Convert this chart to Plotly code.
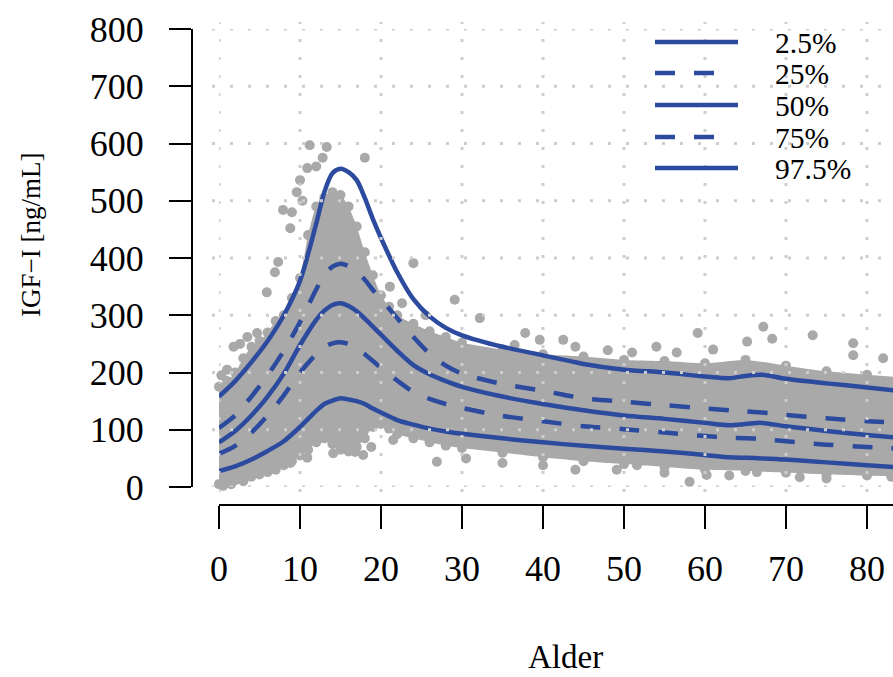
import plotly.graph_objects as go

# ---------------- data ----------------
ages = [0, 2, 4, 6, 8, 10, 12, 13, 14, 15, 16, 17, 18, 19, 20, 22, 24, 26, 28, 30,
        35, 40, 45, 50, 55, 60, 63, 65, 67, 70, 75, 80, 84]
p2_5 = [28, 36, 48, 63, 80, 105, 133, 145, 151, 155, 153, 150, 145, 137, 130, 117, 109, 102, 97, 93,
        85, 78, 72, 67, 62, 56, 52, 51, 50, 48, 43, 38, 34]
p25 = [58, 72, 95, 125, 160, 200, 232, 244, 251, 253, 250, 242, 232, 220, 208, 186, 166, 154, 145, 138,
       124, 115, 106, 101, 95, 89, 86, 85, 84, 80, 74, 70, 67]
p50 = [78, 98, 125, 158, 198, 248, 292, 308, 318, 321, 316, 307, 294, 280, 266, 238, 213, 197, 185, 175,
       158, 145, 134, 125, 119, 112, 108, 110, 112, 106, 98, 91, 86]
p75 = [103, 125, 158, 195, 238, 288, 345, 370, 385, 390, 386, 376, 362, 344, 328, 295, 262, 233, 212, 198,
       180, 168, 155, 149, 143, 137, 134, 132, 130, 126, 120, 115, 112]
p97_5 = [158, 185, 218, 255, 300, 360, 460, 515, 548, 556, 550, 536, 505, 468, 435, 375, 328, 298, 278, 265,
         245, 230, 215, 205, 200, 193, 190, 194, 196, 189, 181, 174, 168]

# dense cloud of observations: lower / upper edge
env_age = [0, 1, 2, 3, 4, 5, 6, 7, 8, 9, 10, 11, 12, 13, 14, 15, 16, 17, 18, 19, 20, 21, 22,
           24, 26, 28, 30, 35, 40, 45, 50, 55, 60, 65, 70, 75, 80, 84]
env_low = [5, 8, 12, 15, 18, 22, 26, 30, 38, 45, 55, 65, 78, 85, 75, 65, 62, 70, 85, 105, 110, 102, 92,
           85, 78, 72, 68, 60, 52, 45, 40, 35, 30, 28, 25, 22, 20, 18]
env_high = [175, 185, 200, 225, 245, 255, 270, 290, 300, 330, 365, 440, 490, 505, 515, 510, 490, 455, 410, 370, 335, 315, 300,
            285, 272, 262, 252, 240, 232, 228, 222, 220, 216, 222, 212, 202, 196, 192]

# scattered single observations outside the dense cloud
out_age = [11.2, 13.3, 18.0, 10.0, 10.9, 12.0, 12.8, 9.6, 10.3, 9.0, 7.9, 8.8, 7.3, 6.9, 5.9, 4.7, 3.5, 2.6, 1.8, 1.0, 0.3,
           24.0, 21.1, 22.6, 25.5, 29.1, 32.2, 37.8, 39.6, 36.5, 42.5, 44.0, 48.0, 51.0, 54.0, 56.5, 59.1, 61.0, 65.2, 67.2, 68.3,
           73.3, 78.3, 78.3, 82.0,
           8.8, 10.9, 14.1, 16.8, 17.8, 18.8, 21.5, 26.9, 30.5, 35.0, 40.0, 44.0, 49.1, 51.6, 55.0, 58.1, 60.2, 63.0, 66.4, 71.7,
           75.0, 80.0, 83.0, 0.5, 1.5, 3.0]
out_igf = [597, 594, 575, 536, 557, 560, 575, 515, 500, 480, 484, 452, 393, 375, 340, 269, 262, 250, 245, 205, 195,
           391, 350, 321, 300, 327, 295, 269, 257, 248, 257, 245, 239, 235, 245, 235, 269, 240, 254, 280, 259,
           265, 251, 230, 225,
           42, 51, 59, 61, 56, 70, 82, 44, 50, 42, 38, 30, 30, 38, 25, 9, 21, 20, 26, 17,
           15, 24, 18, 2, 5, 10]

x_ticks = [0, 10, 20, 30, 40, 50, 60, 70, 80]
y_ticks = [0, 100, 200, 300, 400, 500, 600, 700, 800]
legend_labels = ["2.5%", "25%", "50%", "75%", "97.5%"]
x_title = "Alder"
y_title = "IGF\u2212I [ng/mL]"

# ---------------- styling ----------------
W, H = 893, 677
FONT = "Liberation Serif"
BLUE = "#2c4a9e"
GREY = "#a9a9a9"
GRID = "#cdcdcd"
DASH = "20px,19px"


def pxx(x):
    return x / W


def pxy(y):
    return (H - y) / H


fig = go.Figure()

# dense cloud (filled between edges)
fig.add_trace(go.Scatter(x=env_age, y=env_low, mode="lines",
                         line=dict(width=0, color=GREY, shape="spline", smoothing=0.6),
                         showlegend=False, hoverinfo="skip"))
fig.add_trace(go.Scatter(x=env_age, y=env_high, mode="lines", fill="tonexty", fillcolor=GREY,
                         line=dict(width=0, color=GREY, shape="spline", smoothing=0.6),
                         showlegend=False, hoverinfo="skip"))
fig.add_trace(go.Scatter(x=env_age + env_age, y=env_low + env_high, mode="markers",
                         marker=dict(size=10, color=GREY), cliponaxis=False,
                         showlegend=False, hoverinfo="skip"))
fig.add_trace(go.Scatter(x=out_age, y=out_igf, mode="markers",
                         marker=dict(size=10, color=GREY), cliponaxis=False,
                         showlegend=False, hoverinfo="skip"))

curves = [p2_5, p25, p50, p75, p97_5]
dashes = ["solid", DASH, "solid", DASH, "solid"]
for name, vals, d in zip(legend_labels, curves, dashes):
    fig.add_trace(go.Scatter(x=ages, y=vals, mode="lines", name=name,
                             line=dict(color=BLUE, width=4.5, dash=d, shape="spline", smoothing=0.8),
                             showlegend=False))

shapes = []
# dotted grid drawn on top (as in the reference)
for xv in x_ticks:
    shapes.append(dict(type="line", layer="above", xref="x", yref="paper",
                       x0=xv, x1=xv, y0=pxy(492), y1=pxy(22),
                       line=dict(color=GRID, width=3, dash="3px,15px")))
for yv in y_ticks:
    shapes.append(dict(type="line", layer="above", xref="paper", yref="y",
                       x0=pxx(212), x1=1.0, y0=yv, y1=yv,
                       line=dict(color=GRID, width=3, dash="3px,15px")))

# legend
annotations = []
rows = [42, 73, 105, 137, 168]
for lab, d, ry in zip(legend_labels, dashes, rows):
    x1 = 738 if d == "solid" else 716
    shapes.append(dict(type="line", layer="above", xref="paper", yref="paper",
                       x0=pxx(655), x1=pxx(x1), y0=pxy(ry), y1=pxy(ry),
                       line=dict(color=BLUE, width=4.5, dash=d)))
    annotations.append(dict(text=lab, xref="paper", yref="paper", x=pxx(773), y=pxy(ry + 1),
                            xanchor="left", yanchor="middle", showarrow=False,
                            font=dict(family=FONT, size=29.5, color="black")))

annotations.append(dict(text=x_title, xref="paper", yref="paper", x=pxx(565), y=0.0,
                        xanchor="center", yanchor="bottom", showarrow=False,
                        font=dict(family=FONT, size=33, color="black")))
annotations.append(dict(text=y_title, xref="paper", yref="paper", x=pxx(31), y=pxy(235),
                        xanchor="center", yanchor="middle", showarrow=False, textangle=-90,
                        font=dict(family=FONT, size=27, color="black")))

axis_common = dict(showline=True, linecolor="black", linewidth=2, ticks="outside",
                   tickwidth=2, tickcolor="black", showgrid=False, zeroline=False,
                   automargin=False,
                   tickfont=dict(family=FONT, size=36, color="black"), fixedrange=True)

fig.update_layout(
    template="none",
    width=W, height=H, autosize=False,
    margin=dict(l=0, r=0, t=0, b=0, pad=0),
    paper_bgcolor="white", plot_bgcolor="white",
    showlegend=False,
    xaxis=dict(domain=[pxx(219), 1.0], range=[0, 83.21], anchor="free", position=pxy(505),
               tickvals=x_ticks, ticklen=23, ticklabelstandoff=9, **axis_common),
    yaxis=dict(domain=[pxy(487), pxy(29)], range=[0, 800], anchor="free", position=pxx(192),
               tickvals=y_ticks, ticklen=22, ticklabelstandoff=18, **axis_common),
    shapes=shapes,
    annotations=annotations,
)

fig.write_html("out.html", config={"displayModeBar": False},
               post_script="document.body.style.margin='0';document.body.style.overflow='hidden';")
